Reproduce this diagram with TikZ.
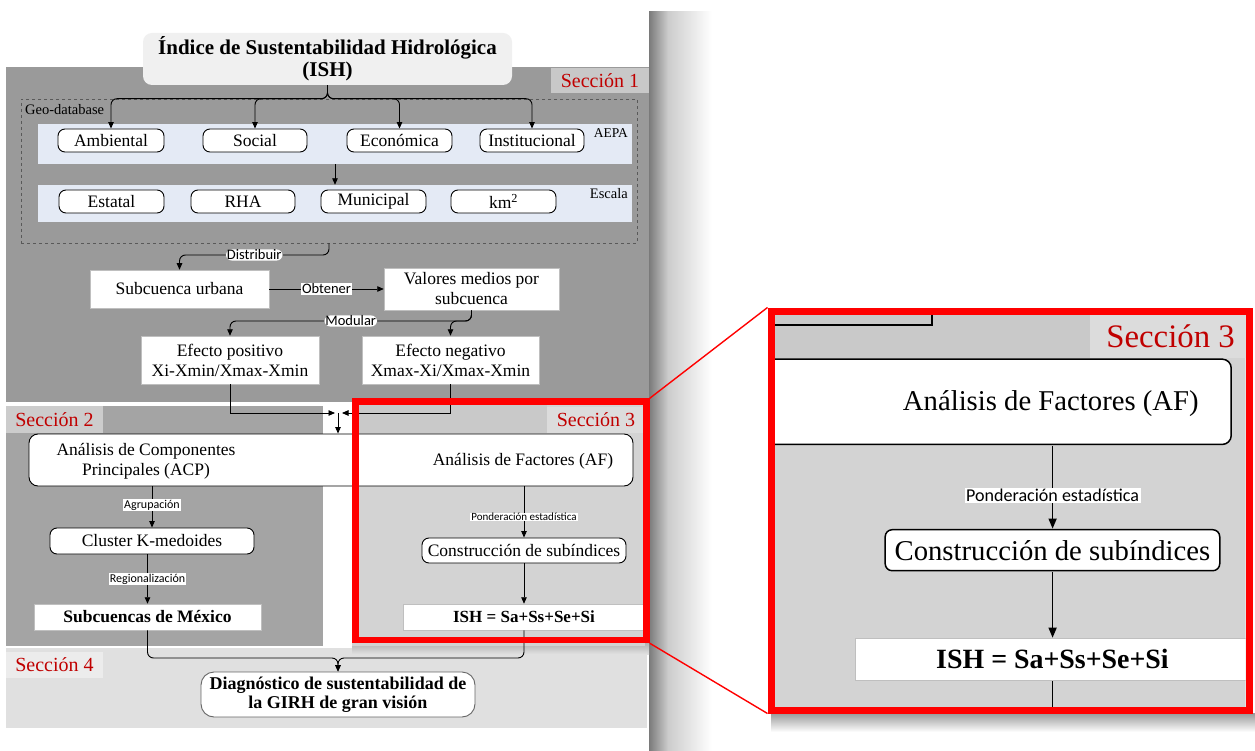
\documentclass[tikz,border=0pt]{standalone}
\usepackage{fontspec}
\setmainfont{Liberation Serif}
\newfontfamily\sansf{Carlito}
\usetikzlibrary{arrows.meta}
\definecolor{secone}{HTML}{9A9A9A}
\definecolor{sectwo}{HTML}{A4A4A4}
\definecolor{secthree}{HTML}{D3D3D3}
\definecolor{secthreetop}{HTML}{C9C9C9}
\definecolor{secfour}{HTML}{E0E0E0}
\definecolor{lblone}{HTML}{C8C8C8}
\definecolor{lbltwo}{HTML}{CCCCCC}
\definecolor{lblthree}{HTML}{DCDCDC}
\definecolor{lblfour}{HTML}{ECECEC}
\definecolor{band}{HTML}{E4EAF5}
\definecolor{titlefill}{HTML}{F0F0F0}
\definecolor{secred}{HTML}{C00000}
\newcommand\fsz[2]{\fontsize{#1}{#2}\selectfont}
\tikzset{
  ln/.style={line width=0.9pt},
  arr/.style={line width=0.9pt, -{Triangle[length=6.5pt,width=5.5pt]}},
  rbox/.style={draw=black, line width=0.9pt, fill=white, rounded corners=7pt, inner sep=0pt, align=center, font=\fsz{17.5}{20}},
  sbox/.style={draw=black!25, line width=0.5pt, fill=white, inner sep=0pt, align=center, font=\fsz{17.5}{20}},
  plain/.style={inner sep=0pt, align=center, font=\fsz{17.5}{20}},
  lbl/.style={fill=white, inner xsep=1pt, inner ysep=0.5pt, font=\sansf\fsz{14.5}{15}},
  seclbl/.style={text=secred, inner sep=0pt, font=\fsz{20}{22}},
  small/.style={inner sep=0pt, font=\fsz{14.5}{15}},
  titlebox/.style={fill=titlefill, rounded corners=9pt, inner sep=0pt, align=center, font=\bfseries\fsz{21}{22}},
}
\newcommand\SecThree[1]{%
  \fill[secthree] (352,405) rectangle (645,646);
  \fill[secthreetop] (352,405) rectangle (547,433);
  \node[seclbl, fill=lblthree, minimum width=98pt, minimum height=26pt] (sthree#1) at (596,420) {Sección 3};
  \node[rbox, rounded corners=9pt, minimum width=604pt, minimum height=52pt] (acp#1) at (331,460) {};
  \node[plain] (af#1) at (523,461) {Análisis de Factores (AF)};
  \node[rbox, minimum width=204pt, minimum height=25pt] (cons#1) at (524,550.5) {Construcción de subíndices};
  \node[sbox, font=\bfseries\fsz{17}{20}, minimum width=241pt, minimum height=26pt] (ish#1) at (524,617) {ISH = Sa+Ss+Se+Si};
  \draw[arr] (cons#1.north |- acp#1.south) -- (cons#1.north) node[lbl, font=\sansf\fsz{11}{12}, pos=0.6] (pond#1) {Ponderación estadística};
  \draw[arr] (cons#1.south) -- (ish#1.north);
}
\begin{document}
\begin{tikzpicture}[x=1pt,y=-1pt]
\useasboundingbox (0,0) rectangle (1255,751);
\fill[white] (0,0) rectangle (1255,751);
% page shadow
\shade[left color=black!52, right color=black!20] (649,12) rectangle (668,751);
\shade[left color=black!20, right color=white] (668,12) rectangle (712,751);
\fill[white] (6,8) rectangle (649,751);
% section panels
\fill[secone] (6,67) rectangle (649,402);
\fill[sectwo] (6,406) rectangle (323,646);
\fill[secfour] (6,648) rectangle (647,728);
% shadow under the small frame
\shade[top color=black!30, bottom color=secfour] (352,643) rectangle (649,654);

% ---------- Section 1 ----------
\node[seclbl, fill=lblone, minimum width=98pt, minimum height=25pt] (sone) at (600,80.5) {Sección 1};
\node[draw=black!65, dashed, line width=0.6pt, minimum width=616pt, minimum height=144pt, inner sep=0pt] (geo) at (329,171) {};
\node[small, anchor=west] (geol) at (25,110) {Geo-database};
\node[fill=band, minimum width=594pt, minimum height=40pt, inner sep=0pt] (aepa) at (335,144) {};
\node[fill=band, minimum width=594pt, minimum height=37pt, inner sep=0pt] (esc) at (335,203.5) {};
\node[small, anchor=east, font=\fsz{13.5}{14}] (aepal) at (628,133) {AEPA};
\node[small, anchor=east] (escl) at (628,194) {Escala};

\node[titlebox, minimum width=369pt, minimum height=52pt] (title) at (327.5,59) {Índice de Sustentabilidad Hidrológica\\(ISH)};

\node[rbox, minimum width=106pt, minimum height=23pt] (amb) at (111,140.5) {Ambiental};
\node[rbox, minimum width=104pt, minimum height=23pt] (soc) at (255,140.5) {Social};
\node[rbox, minimum width=105pt, minimum height=23pt] (eco) at (399.5,140.5) {Económica};
\node[rbox, minimum width=104pt, minimum height=23pt] (ins) at (532,140.5) {Institucional};

\node[rbox, minimum width=105pt, minimum height=23pt] (est) at (111.5,201.5) {Estatal};
\node[rbox, minimum width=104pt, minimum height=23pt] (rha) at (243,201.5) {RHA};
\node[rbox, minimum width=105pt, minimum height=23pt] (mun) at (373.5,201.5) {Municipal};
\node[rbox, minimum width=105pt, minimum height=23pt] (km) at (503.5,201.5) {km\textsuperscript{2}};

\coordinate (tj) at (title.south |- geo.north);
\draw[arr, rounded corners=6pt] (title.south) -- (tj) -| (amb.north);
\draw[arr, rounded corners=6pt] (title.south) -- (tj) -| (soc.north);
\draw[arr, rounded corners=6pt] (title.south) -- (tj) -| (eco.north);
\draw[arr, rounded corners=6pt] (title.south) -- (tj) -| (ins.north);
\draw[arr] (aepa.south) -- (esc.north);

\node[sbox, minimum width=179pt, minimum height=38pt] (sub) at (179.5,289) {Subcuenca urbana};
\node[sbox, minimum width=175pt, minimum height=42pt] (val) at (471.5,289) {Valores medios por\\subcuenca};
\node[sbox, minimum width=178pt, minimum height=48pt] (epos) at (230,360) {Efecto positivo\\Xi-Xmin/Xmax-Xmin};
\node[sbox, minimum width=177pt, minimum height=48pt] (eneg) at (450.5,360) {Efecto negativo\\Xmax-Xi/Xmax-Xmin};

\coordinate (dj) at (geo.south |- 0,255);
\draw[arr, rounded corners=6pt] (geo.south) -- (dj) -| (sub.north) node[lbl, pos=0.25] (distl) {Distribuir};
\draw[arr] (sub.east) -- (val.west) node[lbl, midway] (obtl) {Obtener};
\coordinate (mj) at (val.south |- 0,321);
\draw[arr, rounded corners=6pt] (val.south) -- (mj) -| (epos.north) node[lbl, pos=0.25] (modl) {Modular};
\draw[arr, rounded corners=6pt] (val.south) -- (mj) -| (eneg.north);

% ---------- Section 2 / 3 ----------
\node[seclbl, fill=lbltwo, minimum width=97pt, minimum height=27pt] (stwo) at (54.5,419.5) {Sección 2};
\SecThree{}
\node[plain] (acpt) at (146,461) {Análisis de Componentes\\Principales (ACP)};

\coordinate (jl) at (335,413);
\coordinate (jr) at (342,413);
\coordinate (jc) at (338,413);
\draw[arr] (epos.south) |- (jl);
\draw[arr] (eneg.south) |- (jr);
\draw[arr] (jc) -- (jc |- acp.north);

\node[rbox, minimum width=204pt, minimum height=26pt] (clu) at (152,541) {Cluster K-medoides};
\node[sbox, font=\bfseries\fsz{17.5}{20}, minimum width=227pt, minimum height=26pt] (mex) at (147.5,617) {Subcuencas de México};
\draw[arr] (clu.north |- acp.south) -- (clu.north) node[lbl, font=\sansf\fsz{12}{13}, pos=0.45] (agrl) {Agrupación};
\draw[arr] (mex.north |- clu.south) -- (mex.north) node[lbl, font=\sansf\fsz{12}{13}, pos=0.5] (regl) {Regionalización};

% ---------- Section 4 ----------
\node[seclbl, fill=lblfour, minimum width=97pt, minimum height=26pt] (sfour) at (54.5,665) {Sección 4};
\node[rbox, rounded corners=13pt, draw=black!60, font=\bfseries\fsz{18}{19.5}, minimum width=274pt, minimum height=45pt] (diag) at (338,694.5) {Diagnóstico de sustentabilidad de\\la GIRH de gran visión};
\coordinate (dj2) at (diag.north |- 0,658);
\draw[arr, rounded corners=6pt] (mex.south) |- (dj2) -- (diag.north);
\draw[arr, rounded corners=6pt] (ish.south) |- (dj2) -- (diag.north);

% shadow under the large frame
\shade[top color=black!40, bottom color=white] (771,713) rectangle (1255,732);

% ---------- magnified copy of Section 3 ----------
\begin{scope}
\clip (774.5,314.5) rectangle (1245.5,706.5);
\begin{scope}[shift={(193.1,-352.6)}, scale=1.64, transform shape,
  arr/.style={line width=1.5pt, -{Triangle[length=10pt,width=8pt]}},
  rbox/.append style={line width=1.5pt}]
  \SecThree{z}
  \coordinate (enz) at (450.5,384);
  \coordinate (jrz) at (342,413);
  \draw[line width=1.5pt] (enz) |- (jrz);
  \coordinate (iz) at (524,660);
  \draw[line width=1.5pt] (ishz.south) -- (iz);
\end{scope}
\end{scope}

% ---------- red frames and connectors ----------
\node[draw=red, line width=6.5pt, minimum width=291pt, minimum height=238.5pt, inner sep=0pt, outer sep=3.25pt] (zs) at (501,520.75) {};
\node[draw=red, line width=7pt, minimum width=478pt, minimum height=399pt, inner sep=0pt, outer sep=3.5pt] (zb) at (1010,510.5) {};
\draw[red, line width=1.4pt] (zs.north east) -- (zb.north west);
\draw[red, line width=1.4pt] (zs.south east) -- (zb.south west);
\end{tikzpicture}
\end{document}
